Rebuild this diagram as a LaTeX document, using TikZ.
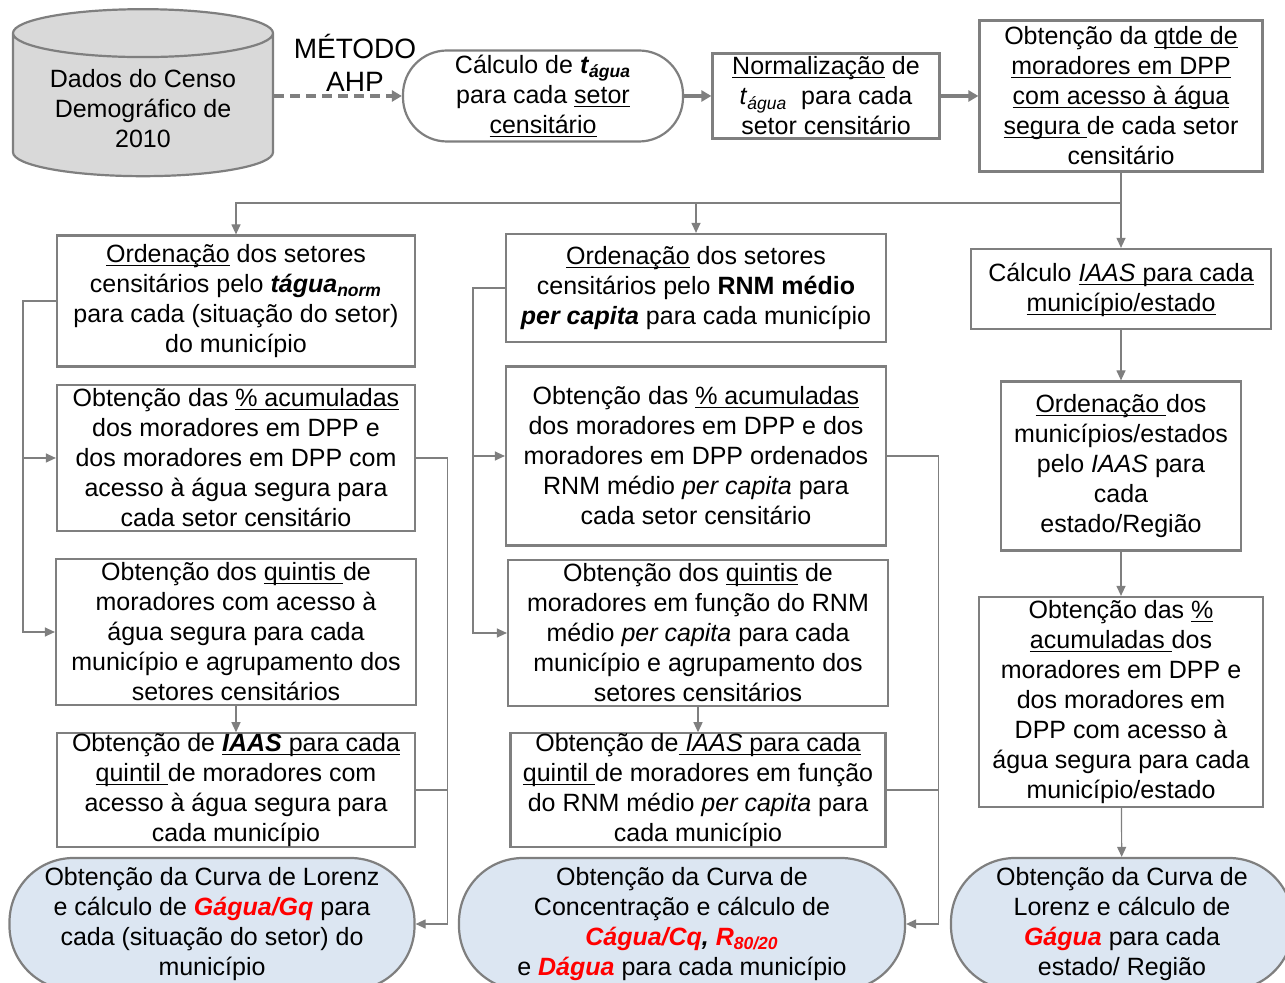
\documentclass[tikz,border=0pt]{standalone}
\usepackage{fontspec}
\setmainfont{Liberation Sans}
\usepackage{xcolor}
\usetikzlibrary{shapes.geometric, arrows.meta, positioning}

\definecolor{linegray}{HTML}{7F7F7F}
\definecolor{cylgray}{HTML}{D9D9D9}
\definecolor{termblue}{HTML}{DCE6F2}
\definecolor{hired}{HTML}{FF0000}

\newcommand{\ulx}[1]{\underline{\smash{#1}\vphantom{A}}}
\newcommand{\redterm}[1]{\textcolor{hired}{\textbf{\textit{#1}}}}

\begin{document}
\begin{tikzpicture}[x=0.5pt, y=-0.5pt, font=\fontsize{12.5}{15}\selectfont,
    box/.style={draw=linegray, line width=1.1pt, fill=white, align=center, inner xsep=2pt, inner ysep=0pt},
    term/.style={box, fill=termblue, rounded corners=32pt},
    flow/.style={draw=linegray, line width=0.6pt, -{Triangle[length=5pt, width=4.5pt]}},
    link/.style={draw=linegray, line width=0.6pt},
    bigflow/.style={draw=linegray, line width=1.6pt, -{Triangle[length=5pt, width=5.5pt]}}]
    \useasboundingbox (0,0) rectangle (1285,983);
    \clip (0,0) rectangle (1285,983);

    \node[cylinder, shape border rotate=90, aspect=0.24, draw=linegray, line width=1.1pt, fill=cylgray,
          align=center, minimum width=130pt, minimum height=83.5pt] (cyl) at (143,109)
          {Dados do Censo\\Demográfico de\\2010};
    \node[align=center, font=\fontsize{14}{16.5}\selectfont] (ahp) at (355,63) {MÉTODO\\AHP};
    \node[box, rounded corners=22pt, minimum width=140pt, minimum height=45.5pt] (tcalc) at (543,96)
          {Cálculo de \textbf{\textit{t}}\textsubscript{\textbf{\textit{água}}}\\para cada \ulx{setor}\\\ulx{censitário}};
    \node[box, minimum width=113.5pt, minimum height=42.5pt] (norm) at (826,96)
          {\ulx{Normalização} de\\\textit{t}\textsubscript{\textit{água}}~ para cada\\setor censitário};
    \node[box, minimum width=141.5pt, minimum height=75.5pt] (qtde) at (1121,96)
          {Obtenção da \ulx{qtde de}\\\ulx{moradores em DPP}\\\ulx{com acesso à água}\\\ulx{segura }de cada setor\\censitário};

    \node[box, minimum width=179pt, minimum height=65.5pt] (L1) at (236,301)
          {\ulx{Ordenação} dos setores\\censitários pelo \textbf{\textit{tágua}}\textsubscript{\textbf{\textit{norm}}}\\para cada (situação do setor)\\do município};
    \node[box, minimum width=179pt, minimum height=73pt] (L2) at (236,458)
          {Obtenção das \ulx{\% acumuladas}\\dos moradores em DPP e\\dos moradores em DPP com\\acesso à água segura para\\cada setor censitário};
    \node[box, minimum width=180pt, minimum height=73pt] (L3) at (236,632)
          {Obtenção dos \ulx{quintis }de\\moradores com acesso à\\água segura para cada\\município e agrupamento dos\\setores censitários};
    \node[box, minimum width=179pt, minimum height=55.5pt] (L4) at (236,790)
          {Obtenção de \ulx{\textbf{\textit{IAAS}} para cada}\\\ulx{quintil }de moradores com\\acesso à água segura para\\cada município};
    \node[term, minimum width=202.5pt, minimum height=66pt] (L5) at (212,924)
          {Obtenção da Curva de Lorenz\\e cálculo de \redterm{Gágua/Gq} para\\cada (situação do setor) do\\município};

    \node[box, minimum width=190pt, minimum height=54pt] (M1) at (696,288)
          {\ulx{Ordenação} dos setores\\censitários pelo \textbf{RNM médio}\\\textbf{\textit{per capita}} para cada município};
    \node[box, minimum width=190pt, minimum height=89.5pt] (M2) at (696,456)
          {Obtenção das \ulx{\% acumuladas}\\dos moradores em DPP e dos\\moradores em DPP ordenados\\RNM médio \textit{per capita} para\\cada setor censitário};
    \node[box, minimum width=190pt, minimum height=73pt] (M3) at (698,633)
          {Obtenção dos \ulx{quintis} de\\moradores em função do RNM\\médio \textit{per capita} para cada\\município e agrupamento dos\\setores censitários};
    \node[box, minimum width=187.5pt, minimum height=55.5pt] (M4) at (698,790)
          {Obtenção de\ulx{ \textit{IAAS} para cada}\\\ulx{quintil }de moradores em função\\do RNM médio \textit{per capita} para\\cada município};
    \node[term, minimum width=223pt, minimum height=66pt] (M5) at (682,924)
          {Obtenção da Curva de\\Concentração e cálculo de\\\redterm{Cágua/Cq}\textbf{\textit{,}} \redterm{R\textsubscript{80/20}}\\e \redterm{Dágua} para cada município};

    \node[box, minimum width=150pt, minimum height=40pt] (R1) at (1121,289)
          {Cálculo \ulx{\textit{IAAS} para cada}\\\ulx{município/estado}};
    \node[box, minimum width=120pt, minimum height=84.5pt] (R2) at (1121,466)
          {\ulx{Ordenação }dos\\municípios/estados\\pelo \textit{IAAS} para\\cada\\estado/Região};
    \node[box, minimum width=142pt, minimum height=105pt] (R3) at (1121,702)
          {Obtenção das \ulx{\%}\\\ulx{acumuladas }dos\\moradores em DPP e\\dos moradores em\\DPP com acesso à\\água segura para cada\\município/estado};
    \node[term, minimum width=171pt, minimum height=66pt] (R4) at (1122,924)
          {Obtenção da Curva de\\Lorenz e cálculo de\\\redterm{Gágua} para cada\\estado/ Região};

    \draw[bigflow, dash pattern=on 5pt off 3pt] (cyl.east |- tcalc.west) -- (tcalc.west);
    \draw[bigflow] (tcalc) -- (norm);
    \draw[bigflow] (norm) -- (qtde);

    \coordinate (bus) at (1121,203);
    \draw[flow] (qtde) -- (R1);
    \draw[flow] (bus) -| (L1.north);
    \draw[flow] (bus) -| (M1.north);

    \draw[flow] (L1.west) -- ++(-33,0) coordinate (lbus) |- (L2.west);
    \draw[flow] (lbus) |- (L3.west);
    \draw[flow] (L3) -- (L4);
    \draw[flow] (L2.east) -- ++(31,0) coordinate (rbus) |- (L5.east);
    \draw[link] (L4.east) -- (L4.east -| rbus);

    \draw[flow] (M1.west) -- ++(-32,0) coordinate (mlbus) |- (M2.west);
    \draw[flow] (mlbus) |- (M3.west);
    \draw[flow] (M3) -- (M4);
    \draw[flow] (M2.east) -- ++(51,0) coordinate (mrbus) |- (M5.east);
    \draw[link] (M4.east) -- (M4.east -| mrbus);

    \draw[flow] (R1) -- (R2);
    \draw[flow] (R2) -- (R3);
    \draw[flow] (R3) -- (R4);
\end{tikzpicture}
\end{document}
